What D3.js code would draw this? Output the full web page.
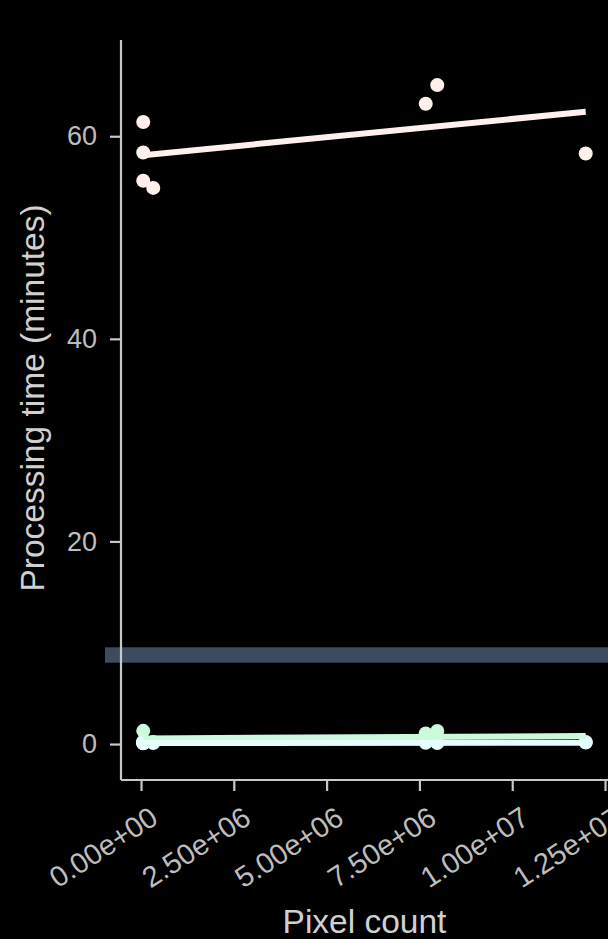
<!DOCTYPE html>
<html>
<head>
<meta charset="utf-8">
<script src="https://cdn.jsdelivr.net/npm/d3@7"></script>
<style>
  html, body { margin: 0; padding: 0; background: #000; }
  svg { display: block; }
</style>
</head>
<body>
<script>
// Image sizes (pixel count) for each run, shared by all methods
const pixelCounts = [60000, 60000, 60000, 330000, 7670000, 7980000, 11980000];

// Processing time (minutes) per method
const slowMethodMinutes    = [61.4, 58.4, 55.6, 54.9, 63.2, 65.05, 58.3];
const mediumMethodMinutes  = [1.3, 0.25, 0.15, 0.2, 1.05, 1.28, 0.2];
const fastMethodMinutes    = [0.12, 0.08, 0.1, 0.1, 0.12, 0.1, 0.15];

const seriesColors = ["#fff0ee", "#cbf9dc", "#e6fdfd"];

// Axis ticks and limits
const xTicks = [0, 2.5e6, 5e6, 7.5e6, 1e7, 1.25e7];
const yTicks = [0, 20, 40, 60];
const xDomain = [-539000, 12580000];
const yDomain = [-3.55, 69.5];

// Shaded horizontal band (minutes)
const bandRange = [8.03, 9.55];

const width = 608, height = 939;
const margin = { top: 40, right: 0, bottom: 159, left: 121 };

const svg = d3.select("body").append("svg")
  .attr("width", width).attr("height", height)
  .style("background", "#000");

const x = d3.scaleLinear().domain(xDomain).range([margin.left, width - margin.right]);
const y = d3.scaleLinear().domain(yDomain).range([height - margin.bottom, margin.top]);

const series = [slowMethodMinutes, mediumMethodMinutes, fastMethodMinutes].map((vals, i) => ({
  color: seriesColors[i],
  points: vals.map((v, j) => ({ px: pixelCounts[j], t: v }))
}));

// Least-squares fit for each method
function linearFit(points) {
  const mx = d3.mean(points, d => d.px), my = d3.mean(points, d => d.t);
  let sxy = 0, sxx = 0;
  points.forEach(d => { sxy += (d.px - mx) * (d.t - my); sxx += (d.px - mx) ** 2; });
  const slope = sxy / sxx, icpt = my - slope * mx;
  const [x0, x1] = d3.extent(points, d => d.px);
  return [{ px: x0, t: icpt + slope * x0 }, { px: x1, t: icpt + slope * x1 }];
}

// Band
svg.append("rect")
  .attr("x", 105).attr("width", width - 105)
  .attr("y", y(bandRange[1]))
  .attr("height", y(bandRange[0]) - y(bandRange[1]))
  .attr("fill", "#3d4b5e");

// Points
series.forEach(s => {
  svg.append("g").selectAll("circle").data(s.points).join("circle")
    .attr("cx", d => x(d.px)).attr("cy", d => y(d.t))
    .attr("r", 7).attr("fill", s.color);
});

// Fit lines
const line = d3.line().x(d => x(d.px)).y(d => y(d.t));
series.forEach(s => {
  svg.append("path").datum(linearFit(s.points))
    .attr("d", line).attr("fill", "none")
    .attr("stroke", s.color).attr("stroke-width", 6);
});

const axisColor = "#c8c8c8";
const textColor = "#bdbdbd";
const font = "'Liberation Sans', Arial, Helvetica, sans-serif";

function sci(v) {
  const s = d3.format(".2e")(v);
  return s.replace(/e([+-])(\d)$/, "e$10$2");
}

// X axis
const xAxis = svg.append("g")
  .attr("transform", `translate(0,${height - margin.bottom})`)
  .call(d3.axisBottom(x).tickValues(xTicks).tickSize(11).tickSizeOuter(0).tickFormat(sci));
xAxis.select(".domain").attr("stroke", axisColor).attr("stroke-width", 2.2)
  .attr("d", `M${margin.left},0H${width}`);
xAxis.selectAll(".tick line").attr("stroke", axisColor).attr("stroke-width", 2.2);
xAxis.selectAll(".tick text")
  .attr("fill", textColor).style("font-family", font).style("font-size", "29px")
  .attr("text-anchor", "end")
  .attr("x", 0).attr("y", 0).attr("dy", "0.72em")
  .attr("transform", "translate(7,25) rotate(-33)");

// Y axis
const yAxis = svg.append("g")
  .attr("transform", `translate(${margin.left},0)`)
  .call(d3.axisLeft(y).tickValues(yTicks).tickSize(11).tickSizeOuter(0).tickPadding(13));
yAxis.select(".domain").attr("stroke", axisColor).attr("stroke-width", 2.2)
  .attr("d", `M0,${margin.top}V${height - margin.bottom}`);
yAxis.selectAll(".tick line").attr("stroke", axisColor).attr("stroke-width", 2.2);
yAxis.selectAll(".tick text")
  .attr("fill", textColor).style("font-family", font).style("font-size", "27px");

// Axis titles
svg.append("text")
  .attr("x", (margin.left + width) / 2).attr("y", 933)
  .attr("text-anchor", "middle")
  .attr("fill", "#d0d0d0").style("font-family", font).style("font-size", "33.5px")
  .text("Pixel count");

svg.append("text")
  .attr("transform", `translate(44,${398}) rotate(-90)`)
  .attr("text-anchor", "middle")
  .attr("fill", "#d0d0d0").style("font-family", font).style("font-size", "33.5px")
  .text("Processing time (minutes)");
</script>
</body>
</html>
